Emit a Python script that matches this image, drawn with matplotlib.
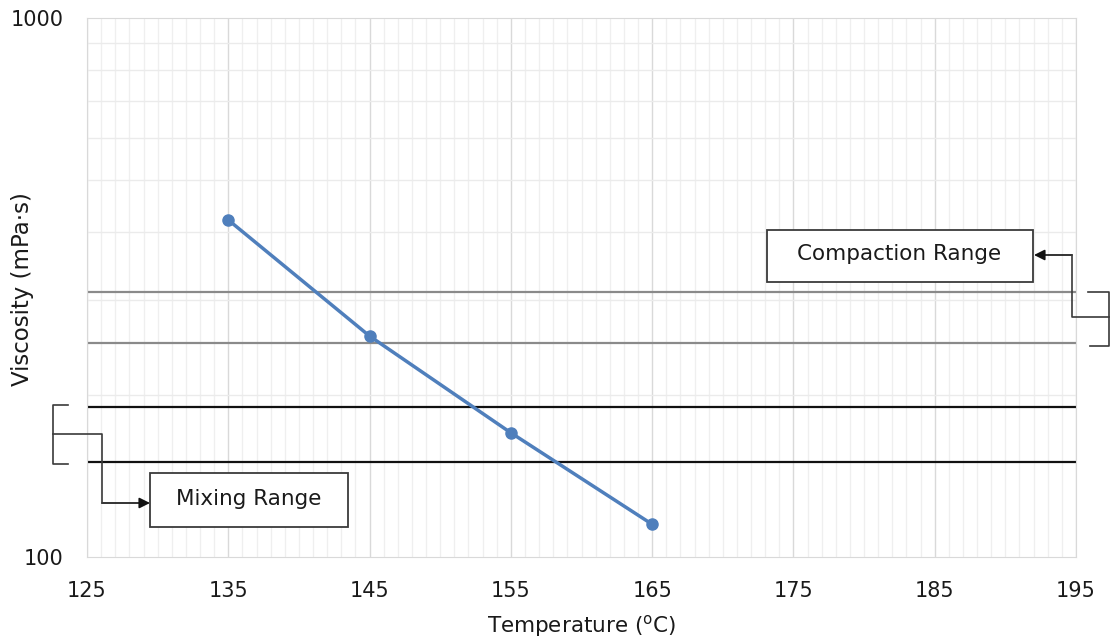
import numpy as np
import matplotlib.pyplot as plt
from matplotlib.lines import Line2D
from matplotlib.patches import FancyArrowPatch
from matplotlib.ticker import FixedLocator, NullFormatter

temps = [135, 145, 155, 165]
visc = [422, 257, 170, 115]
compaction_range = [250, 310]
mixing_range = [150, 190]
x_ticks = [125, 135, 145, 155, 165, 175, 185, 195]

W, H = 1110, 644
plt.rcParams['font.family'] = ['DejaVu Sans']

fig = plt.figure(figsize=(W / 100, H / 100), dpi=100)
ax = fig.add_axes([87 / W, 1 - 557 / H, (1076 - 87) / W, (557 - 18) / H])

ax.set_yscale('log')
ax.set_xlim(125, 195)
ax.set_ylim(100, 1000)
ax.set_xticks(x_ticks)
ax.set_xticklabels([str(t) for t in x_ticks])
ax.xaxis.set_minor_locator(FixedLocator(np.arange(125, 196, 1)))
ax.set_yticks([100, 1000])
ax.set_yticklabels(['100', '1000'])
ax.yaxis.set_minor_locator(FixedLocator([200, 300, 400, 500, 600, 700, 800, 900]))
ax.yaxis.set_minor_formatter(NullFormatter())

ax.grid(True, which='major', axis='x', color='#d9d9d9', lw=1.0)
ax.grid(True, which='minor', axis='x', color='#efefef', lw=0.9)
ax.grid(True, which='minor', axis='y', color='#ebebeb', lw=1.0)
ax.set_axisbelow(True)
ax.tick_params(which='both', length=0, labelsize=15, colors='#1a1a1a')
ax.tick_params(axis='x', pad=17)
ax.tick_params(axis='y', pad=17)
for s in ax.spines.values():
    s.set_color('#d9d9d9')

# range limits
for v in compaction_range:
    ax.axhline(v, color='#8a8a8a', lw=1.6, zorder=2)
for v in mixing_range:
    ax.axhline(v, color='#111111', lw=1.6, zorder=2)

ax.plot(temps, visc, color='#4f7fbc', lw=2.5, marker='o', ms=8, zorder=3)

ax.set_xlabel('Temperature ($^{\\mathrm{o}}$C)', fontsize=15.5, labelpad=9, color='#1a1a1a')
ax.set_ylabel('Viscosity (mPa·s)', fontsize=16.5, color='#1a1a1a')
ax.yaxis.set_label_coords(-0.054, 0.497)


def fy(v):
    # data y -> figure fraction
    return fig.transFigure.inverted().transform(ax.transData.transform((130, v)))[1]


def px(x, y):
    return x / W, 1 - y / H


def fx(x):
    return x / W


def polyline(xs, ys):
    fig.add_artist(Line2D(xs, ys, transform=fig.transFigure, color='#3a3a3a', lw=1.2))


def arrow(x0, y0, x1, y1):
    fig.add_artist(FancyArrowPatch((x0, y0), (x1, y1), transform=fig.transFigure,
                                   arrowstyle='-|>', mutation_scale=16,
                                   color='#111111', lw=1.2, shrinkA=0, shrinkB=0))


# compaction bracket and label
c_lo, c_hi = fy(compaction_range[0]), fy(compaction_range[1])
c_mid = (c_lo + c_hi) / 2
polyline([fx(1088), fx(1109), fx(1109), fx(1090)], [c_hi, c_hi, c_lo - 0.006, c_lo - 0.006])
cy = px(0, 255)[1]
polyline([fx(1109), fx(1072), fx(1072)], [c_mid, c_mid, cy])
arrow(fx(1072), cy, fx(1034), cy)
fig.add_artist(plt.Rectangle(px(767, 282), 266 / W, 52 / H, transform=fig.transFigure,
                             fc='white', ec='#3a3a3a', lw=1.3, zorder=5))
fig.text(*px(899, 254), 'Compaction Range', ha='center', va='center', fontsize=15.5,
         color='#1a1a1a', zorder=6)

# mixing bracket and label
m_lo, m_hi = fy(mixing_range[0]), fy(mixing_range[1])
m_mid = (m_lo + m_hi) / 2
polyline([fx(68), fx(53), fx(53), fx(68)], [m_hi + 0.002, m_hi + 0.002, m_lo - 0.003, m_lo - 0.003])
my = px(0, 503)[1]
polyline([fx(53), fx(102), fx(102)], [m_mid, m_mid, my])
arrow(fx(102), my, fx(150), my)
fig.add_artist(plt.Rectangle(px(150, 527), 198 / W, 54 / H, transform=fig.transFigure,
                             fc='white', ec='#3a3a3a', lw=1.3, zorder=5))
fig.text(*px(249, 499), 'Mixing Range', ha='center', va='center', fontsize=15.5,
         color='#1a1a1a', zorder=6)

fig.savefig('out.png', dpi=100)
